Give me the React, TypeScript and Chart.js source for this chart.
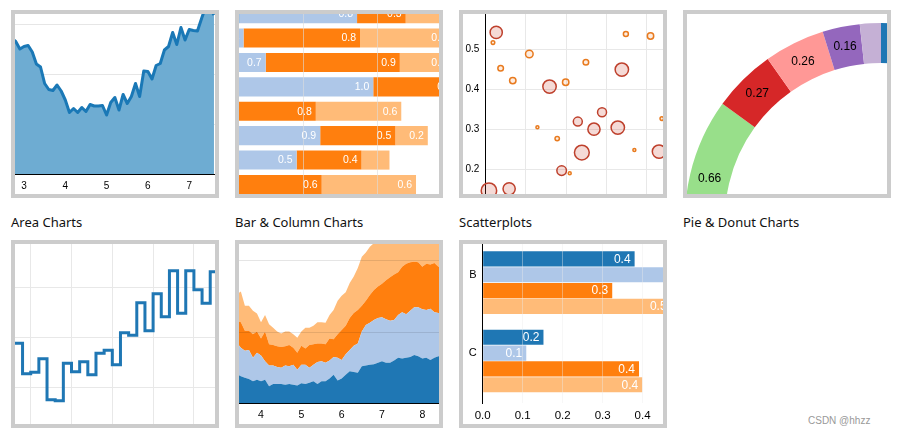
import React, { useEffect, useRef } from 'react';
import { Chart, registerables } from 'chart.js';

Chart.register(...registerables);
Chart.defaults.font.family = 'Arial, "Liberation Sans", Helvetica, sans-serif';
Chart.defaults.color = '#000';

// ---------------- Data ----------------
// Area chart
const areaX = [2.7, 2.8, 2.9, 3.0, 3.1, 3.2, 3.3, 3.4, 3.5, 3.6, 3.7, 3.8, 3.9, 4.0, 4.1, 4.2, 4.3, 4.4, 4.5, 4.6, 4.7, 4.8, 4.9, 5.0, 5.1, 5.2, 5.3, 5.4, 5.5, 5.6, 5.7, 5.8, 5.9, 6.0, 6.1, 6.2, 6.3, 6.4, 6.5, 6.6, 6.7, 6.8, 6.9, 7.0, 7.1, 7.2, 7.3, 7.4, 7.5, 7.6];
const areaY = [2.72, 2.65, 2.5, 2.55, 2.57, 2.44, 2.2, 2.14, 1.81, 1.69, 1.67, 1.78, 1.66, 1.48, 1.23, 1.31, 1.23, 1.33, 1.25, 1.39, 1.36, 1.36, 1.37, 1.18, 1.43, 1.53, 1.28, 1.59, 1.41, 1.55, 1.81, 1.55, 2.06, 2.05, 1.9, 2.17, 2.21, 2.48, 2.55, 2.83, 2.59, 2.93, 2.68, 2.89, 2.87, 2.86, 3.11, 3.35, 3.32, 3.18];
const areaTicks = [3, 4, 5, 6, 7];
const areaGrid = [1, 2, 3];

// Stacked bar chart
const barRows = [0, 1, 2, 3, 4, 5, 6, 7];
const barDark = [0.56, 0.3, 0.04, 0.47, 0.1, 0.21, 0.45, 0.2];
const barLight = [0.8, 0.29, 0.7, 1.0, 0.18, 0.9, 0.5, 0.32];
const barOrange = [0.33, 0.79, 0.91, 0.56, 0.8, 0.51, 0.44, 0.6];
const barLightOrange = [0.5, 0.61, 0.34, 0.3, 0.58, 0.22, 0.19, 0.64];
const barGrid = [1.0, 1.5];

// Scatterplot (bubbles)
const bigX = [0.027, 0.159, 0.338, 0.229, 0.289, 0.269, 0.328, 0.239, 0.43, 0.189, 0.009, 0.059];
const bigY = [0.542, 0.4065, 0.449, 0.319, 0.3425, 0.3, 0.304, 0.2415, 0.244, 0.1965, 0.1465, 0.151];
const bigR = [6.1, 6.7, 6.7, 4.5, 4.5, 6.1, 6.7, 7.4, 6.7, 4.8, 7.7, 6.1];
const smallX = [0.019, 0.109, 0.038, 0.068, 0.199, 0.249, 0.348, 0.409, 0.129, 0.178, 0.437, 0.369, 0.209];
const smallY = [0.5165, 0.488, 0.4525, 0.4215, 0.4175, 0.4675, 0.538, 0.533, 0.305, 0.2765, 0.3265, 0.248, 0.19];
const smallR = [1.8, 3.8, 2.8, 3.2, 3.2, 2.8, 2.5, 3.2, 1.5, 2.2, 1.8, 1.5, 1.5];
const scatterXGrid = [0, 0.1, 0.2, 0.3, 0.4];
const scatterYTicks = [0.2, 0.3, 0.4, 0.5];

// Donut chart
const donutValues = [0.72, 0.85, 0.63, 0.91, 0.65, 0.66, 0.27, 0.26, 0.16, 0.09];

// Step line chart
const stepX = [0.4, 0.6, 0.8, 1.0, 1.2, 1.4, 1.6, 1.8, 2.0, 2.2, 2.4, 2.6, 2.8, 3.0, 3.2, 3.4, 3.6, 3.8, 4.0, 4.2, 4.4, 4.6, 4.8, 5.0, 5.2, 5.4, 5.6];
const stepY = [1.6, 1.88, 1.27, 1.3, 1.57, 0.75, 0.73, 1.48, 1.31, 1.51, 1.25, 1.68, 1.74, 1.45, 2.09, 2.04, 2.69, 2.13, 2.87, 2.41, 3.33, 2.48, 3.33, 2.95, 2.68, 3.31, 3.0];
const stepXGrid = [1, 2, 3, 4, 5];
const stepYGrid = [1, 2, 3];

// Stacked area chart (top edge of each layer)
const layerX = [3.4, 3.5, 3.6, 3.7, 3.8, 3.9, 4.0, 4.1, 4.2, 4.3, 4.4, 4.5, 4.6, 4.7, 4.8, 4.9, 5.0, 5.1, 5.2, 5.3, 5.4, 5.5, 5.6, 5.7, 5.8, 5.9, 6.0, 6.1, 6.2, 6.3, 6.4, 6.5, 6.6, 6.7, 6.8, 6.9, 7.0, 7.1, 7.2, 7.3, 7.4, 7.5, 7.6, 7.7, 7.8, 7.9, 8.0, 8.1, 8.2, 8.3, 8.4, 8.5];
const layer1Top = [0.41, 0.38, 0.36, 0.34, 0.31, 0.33, 0.31, 0.33, 0.24, 0.27, 0.27, 0.27, 0.26, 0.27, 0.26, 0.25, 0.28, 0.27, 0.29, 0.31, 0.27, 0.31, 0.31, 0.35, 0.4, 0.32, 0.35, 0.4, 0.45, 0.44, 0.43, 0.52, 0.53, 0.54, 0.55, 0.57, 0.59, 0.57, 0.57, 0.6, 0.64, 0.63, 0.64, 0.65, 0.68, 0.66, 0.63, 0.64, 0.61, 0.64, 0.66, 0.66];
const layer2Top = [0.85, 0.78, 0.74, 0.75, 0.64, 0.71, 0.67, 0.59, 0.53, 0.53, 0.51, 0.5, 0.53, 0.52, 0.54, 0.47, 0.54, 0.54, 0.5, 0.54, 0.58, 0.59, 0.57, 0.6, 0.65, 0.64, 0.61, 0.69, 0.75, 0.81, 0.84, 1.01, 1.1, 1.13, 1.17, 1.2, 1.21, 1.18, 1.16, 1.17, 1.24, 1.28, 1.25, 1.3, 1.35, 1.35, 1.32, 1.31, 1.33, 1.28, 1.27, 1.27];
const layer3Top = [1.16, 1.14, 1.02, 1.02, 0.97, 1.01, 0.91, 1.01, 0.83, 0.82, 0.8, 0.79, 0.8, 0.82, 0.78, 0.71, 0.81, 0.77, 0.82, 0.83, 0.84, 0.84, 0.83, 0.91, 0.9, 0.97, 1.03, 1.09, 1.2, 1.27, 1.31, 1.37, 1.44, 1.52, 1.59, 1.64, 1.68, 1.73, 1.77, 1.81, 1.84, 1.92, 1.96, 1.98, 1.99, 1.98, 1.92, 1.96, 1.95, 1.97, 1.92, 1.92];
const layer4Top = [1.53, 1.57, 1.37, 1.37, 1.3, 1.26, 1.14, 1.24, 1.11, 1.06, 1.01, 0.98, 1.01, 1.01, 0.97, 0.92, 1.01, 1.06, 1.06, 1.09, 1.14, 1.14, 1.13, 1.24, 1.31, 1.44, 1.51, 1.56, 1.69, 1.78, 1.9, 2.06, 2.12, 2.2, 2.25, 2.3, 2.33, 2.36, 2.4, 2.43, 2.46, 2.52, 2.55, 2.56, 2.58, 2.57, 2.52, 2.55, 2.54, 2.56, 2.5, 2.5];
const layerTicks = [4, 5, 6, 7, 8];
const layerGrid = [1, 2];

// Grouped bar chart
const groupCats = ['B', 'C'];
const groupDark = [0.38, 0.152];
const groupLight = [0.52, 0.109];
const groupOrange = [0.324, 0.391];
const groupLightOrange = [0.47, 0.399];
const groupTicks = [0, 0.1, 0.2, 0.3, 0.4];

// ---------------- Styles ----------------
const C20 = ['#1f77b4', '#aec7e8', '#ff7f0e', '#ffbb78', '#2ca02c', '#98df8a', '#d62728', '#ff9896', '#9467bd', '#c5b0d5'];

const fix = (w?: number, h?: number) => (s: any) => {
  if (w !== undefined) s.width = w;
  if (h !== undefined) s.height = h;
  s.paddingLeft = 0;
  s.paddingRight = 0;
  s.paddingTop = 0;
  s.paddingBottom = 0;
};
const setTicks = (vals: number[]) => (s: any) => {
  s.ticks = vals.map((v) => ({ value: v }));
};

const base: any = {
  animation: false,
  responsive: false,
  maintainAspectRatio: false,
  events: [],
  layout: { padding: 0, autoPadding: false },
  plugins: { legend: { display: false }, tooltip: { enabled: false } },
};

const hiddenAxis = (min: number, max: number, grid: number[], gridOpts: any, w?: number, h?: number) => ({
  type: 'linear',
  min,
  max,
  offset: false,
  afterBuildTicks: setTicks(grid),
  ticks: { display: false },
  grid: { drawTicks: false, ...gridOpts },
  border: { display: false },
  afterFit: fix(w, h),
});

const barLabels = (size: number, minWidth: number) => ({
  id: 'barLabels',
  afterDatasetsDraw(chart: any) {
    const ctx = chart.ctx;
    ctx.save();
    ctx.font = `${size}px Arial, "Liberation Sans", sans-serif`;
    ctx.fillStyle = '#fff';
    ctx.textAlign = 'right';
    ctx.textBaseline = 'middle';
    chart.data.datasets.forEach((ds: any, i: number) => {
      const meta = chart.getDatasetMeta(i);
      meta.data.forEach((el: any, j: number) => {
        const w = Math.abs(el.x - el.base);
        if (w < minWidth) return;
        const v = ds.data[j].x;
        ctx.fillText(v.toFixed(1), el.x - 4, el.y + 0.5);
      });
    });
    ctx.restore();
  },
});

const donutLabels = {
  id: 'donutLabels',
  afterDatasetsDraw(chart: any) {
    const ctx = chart.ctx;
    const meta = chart.getDatasetMeta(0);
    ctx.save();
    ctx.font = '12px Arial, "Liberation Sans", sans-serif';
    ctx.fillStyle = '#000';
    ctx.textAlign = 'center';
    ctx.textBaseline = 'middle';
    meta.data.forEach((arc: any, i: number) => {
      if (arc.endAngle - arc.startAngle < 0.15) return;
      const p = arc.tooltipPosition();
      ctx.fillText(donutValues[i].toFixed(2), p.x, p.y);
    });
    ctx.restore();
  },
};

// ---------------- Chart configs ----------------
const makeArea = () => ({
  type: 'line',
  data: {
    datasets: [
      {
        data: areaX.map((x, i) => ({ x, y: areaY[i] })),
        borderColor: '#1a78b6',
        backgroundColor: 'rgb(110,172,210)',
        borderWidth: 3,
        fill: 'origin',
        pointRadius: 0,
        tension: 0,
        borderJoinStyle: 'round',
      },
    ],
  },
  options: {
    ...base,
    scales: {
      x: {
        type: 'linear',
        min: 2.782,
        max: 7.625,
        afterBuildTicks: setTicks(areaTicks),
        ticks: { padding: 6, font: { size: 10 }, color: '#000', maxRotation: 0, autoSkip: false },
        grid: { display: false, drawTicks: false },
        border: { display: true, color: '#000', width: 1 },
        afterFit: fix(undefined, 20),
      },
      y: hiddenAxis(0, 3.2, areaGrid, { color: '#e6e6e6' }, 0, undefined),
    },
  },
});

const makeStackBar = () => {
  const series = [barDark, barLight, barOrange, barLightOrange];
  return {
    type: 'bar',
    data: {
      datasets: series.map((vals, k) => ({
        data: barRows.map((r, i) => ({ x: vals[i], y: r })),
        backgroundColor: C20[k],
        borderWidth: 0,
      })),
    },
    options: {
      ...base,
      indexAxis: 'y',
      datasets: { bar: { categoryPercentage: 0.795, barPercentage: 1 } },
      scales: {
        x: { ...hiddenAxis(0.559, 1.916, barGrid, { color: 'rgba(220,220,220,0.6)', z: 1 }, undefined, 0), stacked: true },
        y: { type: 'linear', stacked: true, reverse: true, offset: false, min: 0.016, max: 7.39, display: false },
      },
    },
    plugins: [barLabels(10.5, 30)],
  };
};

const makeScatter = () => ({
  type: 'bubble',
  data: {
    datasets: [
      {
        data: bigX.map((x, i) => ({ x, y: bigY[i], r: bigR[i] })),
        backgroundColor: 'rgba(205,70,50,0.2)',
        borderColor: 'rgb(190,64,44)',
        borderWidth: 1.5,
        clip: false,
      },
      {
        data: smallX.map((x, i) => ({ x, y: smallY[i], r: smallR[i] })),
        backgroundColor: 'rgba(240,130,50,0.15)',
        borderColor: 'rgb(232,122,30)',
        borderWidth: 1.5,
        clip: false,
      },
    ],
  },
  options: {
    ...base,
    scales: {
      x: hiddenAxis(0, 0.4399, scatterXGrid, { color: '#e8e8e8' }, undefined, 0),
      y: {
        type: 'linear',
        min: 0.138,
        max: 0.588,
        offset: false,
        afterBuildTicks: setTicks(scatterYTicks),
        ticks: { padding: 6, font: { size: 10 }, color: '#000', callback: (v: any) => Number(v).toFixed(1) },
        grid: { color: '#e8e8e8', drawTicks: false },
        border: { display: true, color: '#000', width: 1 },
        afterFit: fix(22.3, undefined),
      },
    },
  },
});

const makeDonut = () => ({
  type: 'doughnut',
  data: {
    datasets: [
      {
        data: donutValues,
        backgroundColor: C20,
        borderWidth: 0,
      },
    ],
  },
  options: { ...base, cutout: '79.6%' },
  plugins: [donutLabels],
});

const makeStep = () => ({
  type: 'line',
  data: {
    datasets: [
      {
        data: stepX.map((x, i) => ({ x, y: stepY[i] })),
        borderColor: '#1f77b4',
        borderWidth: 3,
        stepped: true,
        fill: false,
        pointRadius: 0,
      },
    ],
  },
  options: {
    ...base,
    scales: {
      x: hiddenAxis(0.615, 5.517, stepXGrid, { color: '#e8e8e8' }, undefined, 0),
      y: hiddenAxis(0.266, 3.866, stepYGrid, { color: '#e8e8e8' }, 0, undefined),
    },
  },
});

const makeStackArea = () => {
  const layers = [layer1Top, layer2Top, layer3Top, layer4Top];
  return {
    type: 'line',
    data: {
      datasets: layers.map((vals, k) => ({
        data: layerX.map((x, i) => ({ x, y: vals[i] })),
        backgroundColor: C20[k],
        borderColor: 'rgba(0,0,0,0)',
        borderWidth: 0,
        fill: k === 0 ? 'origin' : '-1',
        pointRadius: 0,
        tension: 0,
      })),
    },
    options: {
      ...base,
      scales: {
        x: {
          type: 'linear',
          min: 3.454,
          max: 8.414,
          afterBuildTicks: setTicks(layerTicks),
          ticks: { padding: 6, font: { size: 10.5 }, color: '#000', maxRotation: 0, autoSkip: false },
          grid: { display: false, drawTicks: false },
          border: { display: true, color: '#000', width: 1 },
          afterFit: fix(undefined, 20.7),
        },
        y: hiddenAxis(0, 2.238, layerGrid, { color: 'rgba(0,0,0,0.1)', z: 1 }, 0, undefined),
      },
    },
  };
};

const makeGroupBar = () => {
  const series = [groupDark, groupLight, groupOrange, groupLightOrange];
  return {
    type: 'bar',
    data: {
      datasets: series.map((vals, k) => ({
        data: groupCats.map((_, i) => ({ x: vals[i], y: i })),
        backgroundColor: C20[k],
        borderWidth: 0,
      })),
    },
    options: {
      ...base,
      indexAxis: 'y',
      datasets: { bar: { categoryPercentage: 0.808, barPercentage: 0.96 } },
      scales: {
        x: {
          type: 'linear',
          min: 0,
          max: 0.451,
          afterBuildTicks: setTicks(groupTicks),
          ticks: { padding: 6, font: { size: 11.5 }, color: '#000', maxRotation: 0, autoSkip: false, callback: (v: any) => Number(v).toFixed(1) },
          grid: { color: 'rgba(235,235,235,0.4)', drawTicks: false, z: 1 },
          border: { display: false },
          afterFit: fix(undefined, 20.7),
        },
        y: {
          type: 'linear',
          reverse: true,
          offset: false,
          min: -0.494,
          max: 1.54,
          afterBuildTicks: setTicks(groupCats.map((_, i) => i)),
          ticks: { padding: 6, labelOffset: -7.7, font: { size: 11 }, color: '#000', callback: (v: any) => groupCats[Math.round(Number(v))] },
          grid: { display: false, drawTicks: false },
          border: { display: true, color: '#000', width: 1, z: 1 },
          afterFit: fix(19.7, undefined),
        },
      },
    },
    plugins: [barLabels(12, 20)],
  };
};

// ---------------- Components ----------------
function ChartCanvas({ make, width = 200, height = 180, x = 0, y = 0 }: any) {
  const ref = useRef<HTMLCanvasElement>(null);
  useEffect(() => {
    const chart = new Chart(ref.current as HTMLCanvasElement, make());
    return () => chart.destroy();
  }, [make]);
  return (
    <canvas
      ref={ref}
      width={width}
      height={height}
      style={{ position: 'absolute', left: x, top: y, width, height, display: 'block' }}
    />
  );
}

function Box({ left, top, children }: any) {
  return (
    <div
      style={{
        position: 'absolute',
        left,
        top,
        width: 208,
        height: 188,
        boxSizing: 'border-box',
        border: '4px solid #cccccc',
        background: '#fff',
      }}
    >
      <div style={{ position: 'absolute', left: 0, top: 0, width: 200, height: 180, overflow: 'hidden' }}>{children}</div>
    </div>
  );
}

const titleStyle: any = {
  position: 'absolute',
  top: 214,
  fontFamily: '"Noto Sans", "Open Sans", Arial, sans-serif',
  fontSize: 13,
  lineHeight: '16px',
  color: '#111',
  whiteSpace: 'nowrap',
};

export default function App() {
  return (
    <div style={{ position: 'fixed', left: 0, top: 0, width: 907, height: 435, background: '#fff', overflow: 'hidden' }}>
      <Box left={11} top={10}>
        <ChartCanvas make={makeArea} />
      </Box>
      <Box left={235} top={10}>
        <ChartCanvas make={makeStackBar} />
      </Box>
      <Box left={459} top={10}>
        <ChartCanvas make={makeScatter} />
      </Box>
      <Box left={683} top={10}>
        <ChartCanvas make={makeDonut} width={392} height={392} x={-2} y={9} />
      </Box>
      <div style={{ ...titleStyle, left: 11 }}>Area Charts</div>
      <div style={{ ...titleStyle, left: 235 }}>Bar &amp; Column Charts</div>
      <div style={{ ...titleStyle, left: 459 }}>Scatterplots</div>
      <div style={{ ...titleStyle, left: 683 }}>Pie &amp; Donut Charts</div>
      <Box left={11} top={240}>
        <ChartCanvas make={makeStep} />
      </Box>
      <Box left={235} top={240}>
        <ChartCanvas make={makeStackArea} />
      </Box>
      <Box left={459} top={240}>
        <ChartCanvas make={makeGroupBar} />
      </Box>
      <div
        style={{
          position: 'absolute',
          left: 808,
          top: 415,
          fontFamily: 'Arial, "Liberation Sans", sans-serif',
          fontSize: 10,
          lineHeight: '12px',
          color: '#999',
          whiteSpace: 'nowrap',
        }}
      >
        CSDN @hhzz
      </div>
    </div>
  );
}
